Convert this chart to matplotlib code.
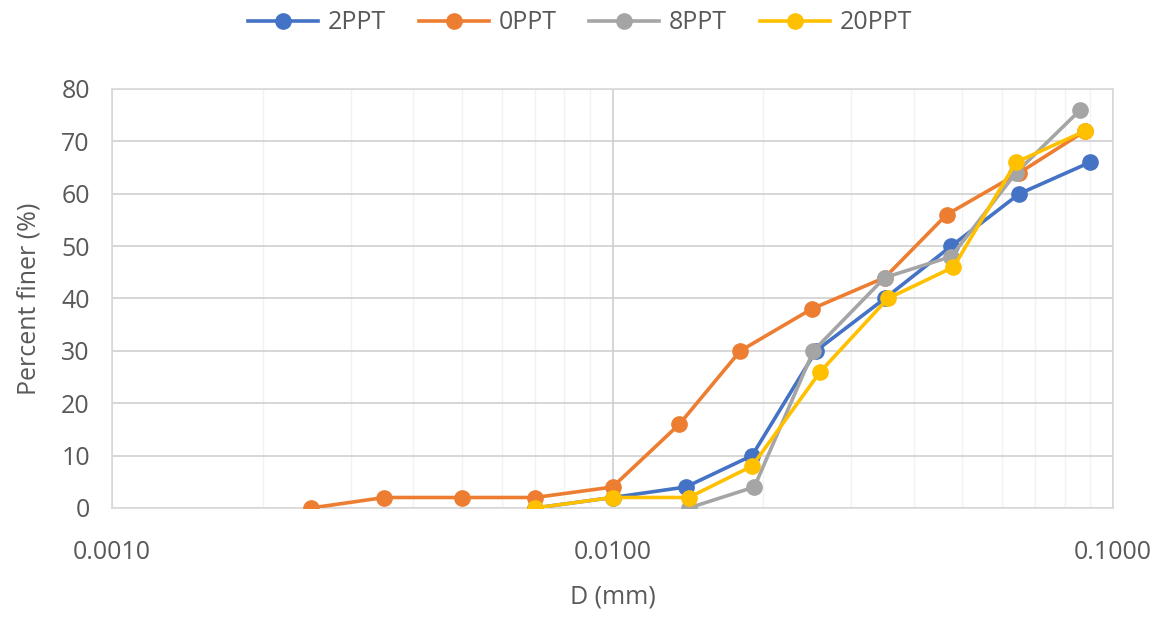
import matplotlib.pyplot as plt
from matplotlib.ticker import FixedLocator, LogLocator, NullFormatter

# sieve / hydrometer data
d_2ppt = [0.0070, 0.0100, 0.0140, 0.0190, 0.0255, 0.0350, 0.0475, 0.0650, 0.0900]
p_2ppt = [0, 2, 4, 10, 30, 40, 50, 60, 66]

d_0ppt = [0.0025, 0.0035, 0.0050, 0.0070, 0.0100, 0.0136, 0.0180, 0.0250, 0.0350, 0.0465, 0.0650, 0.0880]
p_0ppt = [0, 2, 2, 2, 4, 16, 30, 38, 44, 56, 64, 72]

d_8ppt = [0.0142, 0.0192, 0.0252, 0.0350, 0.0475, 0.0640, 0.0860]
p_8ppt = [0, 4, 30, 44, 48, 64, 76]

d_20ppt = [0.0070, 0.0100, 0.0142, 0.0190, 0.0260, 0.0355, 0.0480, 0.0640, 0.0880]
p_20ppt = [0, 2, 2, 8, 26, 40, 46, 66, 72]

x_ticks = [0.001, 0.01, 0.1]
x_labels = ["0.0010", "0.0100", "0.1000"]

plt.rcParams['font.family'] = ['Open Sans', 'DejaVu Sans']
txt = '#595959'
grid = '#d9d9d9'
fs = 18

fig = plt.figure(figsize=(11.6, 6.17), dpi=100)
ax = fig.add_axes([0.0966, 0.1767, 0.8629, 0.6791])

series = [
    (d_2ppt, p_2ppt, '#4472C4', '2PPT'),
    (d_0ppt, p_0ppt, '#ED7D31', '0PPT'),
    (d_8ppt, p_8ppt, '#A5A5A5', '8PPT'),
    (d_20ppt, p_20ppt, '#FFC000', '20PPT'),
]
for x, y, c, lab in series:
    ax.plot(x, y, '-o', color=c, lw=2.6, ms=11, label=lab, zorder=3)

ax.set_xscale('log')
ax.set_xlim(0.001, 0.1)
ax.set_ylim(0, 80)
ax.xaxis.set_major_locator(FixedLocator(x_ticks))
ax.set_xticklabels(x_labels)
ax.xaxis.set_minor_locator(LogLocator(base=10, subs=range(2, 10)))
ax.xaxis.set_minor_formatter(NullFormatter())
ax.set_yticks(range(0, 81, 10))

ax.grid(True, which='major', color='#d0d0d0', lw=1.2, zorder=0)
ax.grid(True, which='minor', axis='x', color='#f2f2f2', lw=1.0, zorder=0)
ax.set_axisbelow(True)
for s in ax.spines.values():
    s.set_color(grid)
    s.set_linewidth(1.2)
ax.tick_params(which='both', length=0, labelsize=fs, colors=txt)
ax.tick_params(axis='x', pad=23)
ax.tick_params(axis='y', pad=16)

ax.set_xlabel('D (mm)', fontsize=fs, color=txt, labelpad=14)
ax.set_ylabel('Percent finer (%)', fontsize=fs, color=txt, labelpad=14)

leg = fig.legend(loc='center', bbox_to_anchor=(0.5, 0.963), ncol=4, frameon=False,
                 fontsize=fs, handlelength=2.8, columnspacing=1.3, handletextpad=0.4)
for t in leg.get_texts():
    t.set_color(txt)

fig.savefig('out.png', dpi=100, facecolor='white')
